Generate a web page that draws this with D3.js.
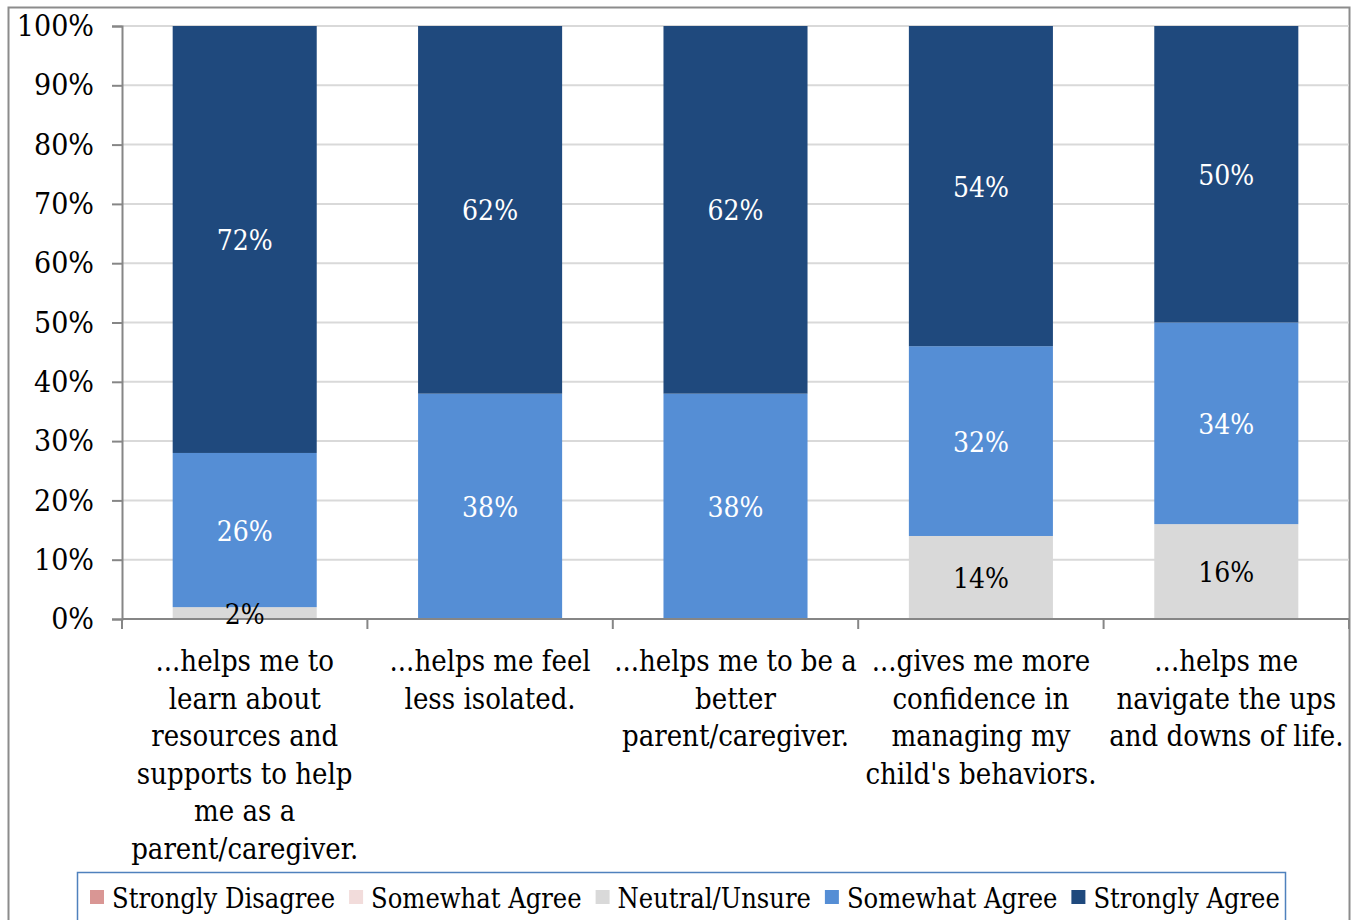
<!DOCTYPE html>
<html>
<head>
<meta charset="utf-8">
<script src="https://cdn.jsdelivr.net/npm/d3@7"></script>
<style>
  html, body { margin: 0; padding: 0; background: #fff; }
  svg { display: block; }
  text { font-family: "DejaVu Serif Condensed", "DejaVu Serif", serif; }
</style>
</head>
<body>
<svg id="chart" width="1353" height="920"></svg>
<script>
// Survey statements (x categories), one label line per array entry
const categories = [
  ["...helps me to", "learn about", "resources and", "supports to help", "me as a", "parent/caregiver."],
  ["...helps me feel", "less isolated."],
  ["...helps me to be a", "better", "parent/caregiver."],
  ["...gives me more", "confidence in", "managing my", "child's behaviors."],
  ["...helps me", "navigate the ups", "and downs of life."]
];

// Response scale, bottom to top of each stacked bar
const seriesNames = ["Strongly Disagree", "Somewhat Agree", "Neutral/Unsure", "Somewhat Agree", "Strongly Agree"];
const seriesColors = ["#D99694", "#F2DCDB", "#D9D9D9", "#558ED5", "#1F497D"];
const labelColors = ["#000", "#000", "#000", "#fff", "#fff"];

// Percent of respondents per response, per statement
const stronglyDisagree = [0, 0, 0, 0, 0];
const somewhatDisagree = [0, 0, 0, 0, 0];
const neutralUnsure    = [2, 0, 0, 14, 16];
const somewhatAgree    = [26, 38, 38, 32, 34];
const stronglyAgree    = [72, 62, 62, 54, 50];

const yTicks = [0, 10, 20, 30, 40, 50, 60, 70, 80, 90, 100];

const seriesValues = [stronglyDisagree, somewhatDisagree, neutralUnsure, somewhatAgree, stronglyAgree];

const svg = d3.select("#chart");

// Outer chart frame
svg.append("rect")
  .attr("x", 8.5).attr("y", 7.5)
  .attr("width", 1341).attr("height", 930)
  .attr("fill", "#fff").attr("stroke", "#8c8c8c").attr("stroke-width", 2);

const plot = { left: 122, right: 1349, top: 26, bottom: 619 };

const x = d3.scaleBand()
  .domain(d3.range(categories.length))
  .range([plot.left, plot.right])
  .paddingInner(0.413)
  .paddingOuter(0.2065);

const y = d3.scaleLinear().domain([0, 100]).range([plot.bottom, plot.top]);

// Horizontal gridlines
svg.append("g")
  .selectAll("line")
  .data(yTicks.filter(t => t > 0))
  .join("line")
  .attr("x1", plot.left).attr("x2", plot.right)
  .attr("y1", d => y(d)).attr("y2", d => y(d))
  .attr("stroke", "#D9D9D9").attr("stroke-width", 2);

// Stack the series
const rows = categories.map((c, i) => {
  const r = { i };
  seriesValues.forEach((s, k) => r["s" + k] = s[i]);
  return r;
});
const keys = seriesValues.map((_, k) => "s" + k);
const stacked = d3.stack().keys(keys)(rows);

const layers = svg.append("g").selectAll("g")
  .data(stacked)
  .join("g")
  .attr("fill", (d, k) => seriesColors[k]);

layers.selectAll("rect")
  .data(d => d.filter(p => p[1] - p[0] > 0))
  .join("rect")
  .attr("x", p => x(p.data.i))
  .attr("width", x.bandwidth())
  .attr("y", p => y(p[1]))
  .attr("height", p => y(p[0]) - y(p[1]));

// Y axis
const yAxis = svg.append("g").attr("transform", `translate(${plot.left},0)`)
  .call(d3.axisLeft(y).tickValues(yTicks).tickSize(10).tickPadding(18).tickFormat(d => d + "%"));
yAxis.select(".domain").attr("stroke", "#868686").attr("stroke-width", 2);
yAxis.selectAll(".tick line").attr("stroke", "#868686").attr("stroke-width", 2);
yAxis.selectAll(".tick text")
  .attr("font-size", 30).attr("fill", "#000")
  .attr("font-family", '"DejaVu Serif Condensed", "DejaVu Serif", serif');

// X axis line with tick marks at band boundaries
const xg = svg.append("g");
xg.append("line")
  .attr("x1", plot.left).attr("x2", plot.right)
  .attr("y1", plot.bottom).attr("y2", plot.bottom)
  .attr("stroke", "#868686").attr("stroke-width", 2);
const step = x.step();
xg.selectAll("line.tk")
  .data(d3.range(categories.length + 1))
  .join("line").attr("class", "tk")
  .attr("x1", i => plot.left + i * step).attr("x2", i => plot.left + i * step)
  .attr("y1", plot.bottom).attr("y2", plot.bottom + 10)
  .attr("stroke", "#868686").attr("stroke-width", 2);

// Value labels centred on each segment
stacked.forEach((layer, k) => {
  svg.append("g").selectAll("text")
    .data(layer.filter(p => p[1] - p[0] > 0))
    .join("text")
    .attr("x", p => x(p.data.i) + x.bandwidth() / 2)
    .attr("y", p => y((p[0] + p[1]) / 2))
    .attr("dy", "0.38em")
    .attr("text-anchor", "middle")
    .attr("font-size", 28)
    .attr("fill", labelColors[k])
    .text(p => (p[1] - p[0]) + "%");
});

// Category labels
const catText = svg.append("g").selectAll("text")
  .data(categories)
  .join("text")
  .attr("text-anchor", "middle")
  .attr("font-size", 29)
  .attr("fill", "#000")
  .attr("transform", (d, i) => `translate(${x(i) + x.bandwidth() / 2},671)`);
catText.selectAll("tspan")
  .data(d => d)
  .join("tspan")
  .attr("x", 0)
  .attr("y", (d, j) => j * 37.5)
  .text(d => d);

// Legend
svg.append("rect")
  .attr("x", 77.5).attr("y", 872.5)
  .attr("width", 1208).attr("height", 80)
  .attr("fill", "#fff").attr("stroke", "#4F81BD").attr("stroke-width", 1.5);

let lx = 90;
seriesNames.forEach((name, k) => {
  svg.append("rect")
    .attr("x", lx).attr("y", 890)
    .attr("width", 14).attr("height", 14)
    .attr("fill", seriesColors[k]);
  const t = svg.append("text")
    .attr("x", lx + 22).attr("y", 908)
    .attr("font-size", 27).attr("fill", "#000")
    .text(name);
  lx += 22 + t.node().getComputedTextLength() + 14;
});
</script>
</body>
</html>
